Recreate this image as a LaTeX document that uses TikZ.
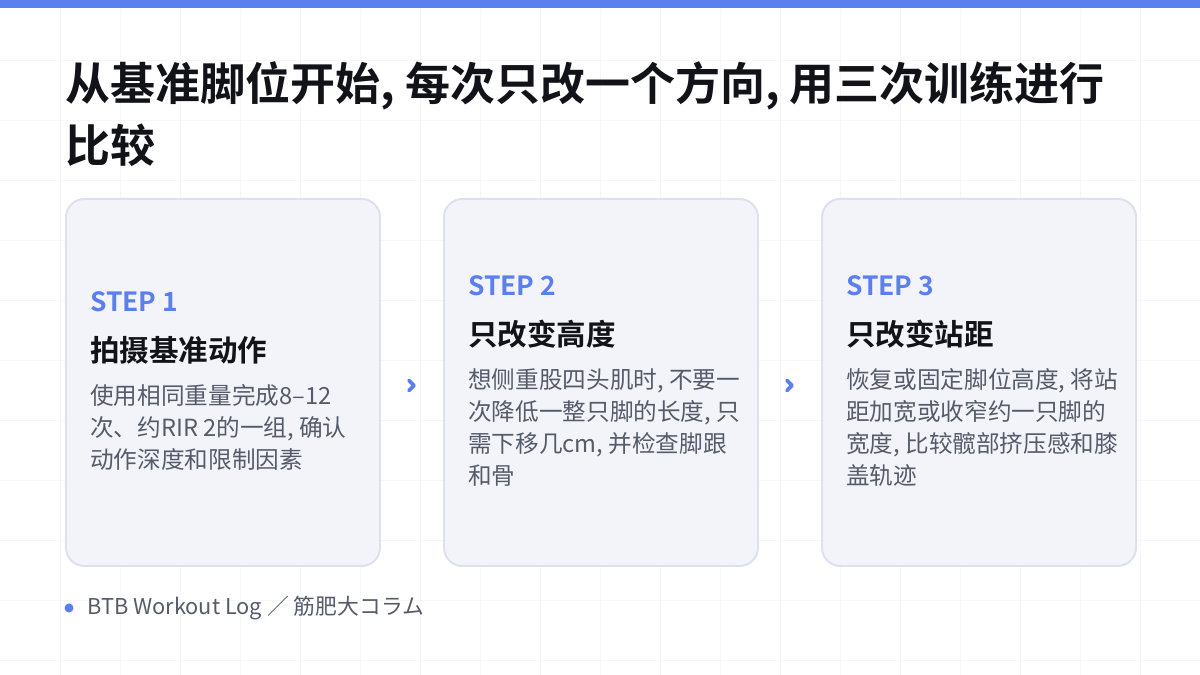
\documentclass[tikz,border=0pt]{standalone}
\usepackage{fontspec}
\setmainfont{Noto Sans CJK SC}
\newfontfamily\cjkbold{Noto Sans CJK SC Bold}
\usetikzlibrary{calc}
\usetikzlibrary{positioning}
\definecolor{barblue}{HTML}{5B7FEF}
\definecolor{gridgray}{HTML}{F6F7F9}
\definecolor{cardfill}{HTML}{F3F4FA}
\definecolor{cardline}{HTML}{DDE1EC}
\definecolor{bodygray}{HTML}{555B69}
\definecolor{headblack}{HTML}{111318}
\tikzset{
  card/.style={rectangle, draw=cardline, line width=1.4pt, fill=cardfill, rounded corners=13pt, minimum width=314*0.025cm, minimum height=367*0.025cm, anchor=north west},
  steplabel/.style={anchor=west, inner sep=0pt, text=barblue, font={\cjkbold\fontsize{18.8}{22}\selectfont}},
  stephead/.style={anchor=west, inner sep=0pt, text=headblack, font={\cjkbold\fontsize{21}{25}\selectfont}},
  stepbody/.style={anchor=north west, inner sep=0pt, text=bodygray, align=left, font={\fontsize{16.8}{22.8}\selectfont}},
  chevron/.style={draw=barblue, line width=2.6pt, line cap=round, line join=round}
}
\begin{document}
\begin{tikzpicture}[x=0.025cm, y=-0.025cm]

\useasboundingbox (0,0) rectangle (1200,675);
%\fill[white] (0,0) rectangle (1200,675);
\foreach \g in {60,120,...,1140} \draw[gridgray, line width=0.5pt] (\g,0) -- (\g,675);
\foreach \g in {60,120,...,660} \draw[gridgray, line width=0.5pt] (0,\g) -- (1200,\g);
\fill[barblue] (0,0) rectangle (1200,8);

\node at (65,114) [anchor=west, inner sep=0pt, text=headblack, align=left, font={\cjkbold\fontsize{32}{44}\selectfont}] (title)
	{从基准脚位开始, 每次只改一个方向, 用三次训练进行\\比较};

\node at (65,198) [card] (card1) {};
\node at (443,198) [card] (card2) {};
\node at (821,198) [card] (card3) {};

\node at (90,302) [steplabel] (step1) {STEP 1};
\node at ($(step1.west)+(0,48)$) [stephead] (head1) {拍摄基准动作};
\node at ($(head1.west)+(0,34)$) [stepbody] (body1) {使用相同重量完成8–12\\次、约RIR 2的一组, 确认\\动作深度和限制因素};

\node at (468,286) [steplabel] (step2) {STEP 2};
\node at ($(step2.west)+(0,48)$) [stephead] (head2) {只改变高度};
\node at ($(head2.west)+(0,34)$) [stepbody] (body2) {想侧重股四头肌时, 不要一\\次降低一整只脚的长度, 只\\需下移几cm, 并检查脚跟\\和骨};

\node at (846,286) [steplabel] (step3) {STEP 3};
\node at ($(step3.west)+(0,48)$) [stephead] (head3) {只改变站距};
\node at ($(head3.west)+(0,34)$) [stepbody] (body3) {恢复或固定脚位高度, 将站\\距加宽或收窄约一只脚的\\宽度, 比较髋部挤压感和膝\\盖轨迹};

\coordinate (arr1) at ($(card1.east)!0.5!(card2.west)+(0,3)$);
\coordinate (arr2) at ($(card2.east)!0.5!(card3.west)+(0,3)$);
\foreach \a in {arr1,arr2}
	\draw[chevron] ($(\a)+(-3,-5)$) -- ($(\a)+(2,0)$) -- ($(\a)+(-3,5)$);

\fill[barblue] (69,608) circle (4.5);
\node at (87,608) [anchor=west, inner sep=0pt, text=bodygray, font={\fontsize{15.5}{18}\selectfont}] (footer) {BTB Workout Log ／ 筋肥大コラム};

\end{tikzpicture}
\end{document}
